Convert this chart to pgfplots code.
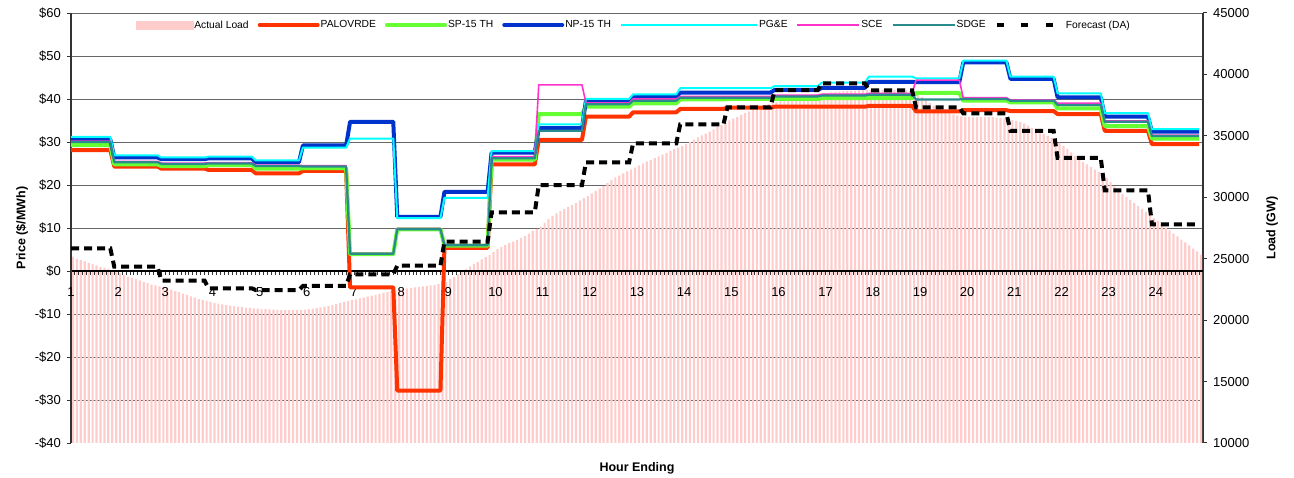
\documentclass[border=0pt]{standalone}
\usepackage{fontspec}
\setmainfont{Liberation Sans}
\usepackage{pgfplots}
\usepackage{pgfplotstable}
\pgfplotsset{compat=1.18}

\definecolor{loadpink}{RGB}{255,204,204}
\definecolor{palo}{RGB}{255,51,0}
\definecolor{spgreen}{RGB}{102,255,51}
\definecolor{npblue}{RGB}{0,51,204}
\definecolor{pgecyan}{RGB}{0,255,255}
\definecolor{scepink}{RGB}{255,51,204}
\definecolor{sdgeteal}{RGB}{40,140,140}

\newcommand\ticksize{\fontsize{13}{15}\selectfont}
\newcommand\legfont{\fontsize{10.3}{12}\selectfont}
\newcommand\labfont{\fontsize{12.5}{14}\selectfont\bfseries}

\pgfplotsset{
  pinkrect/.style={legend image code/.code={\fill[loadpink] (0pt,-4pt) rectangle (57pt,4pt);}},
  longcyan/.style={legend image code/.code={\draw[pgecyan,line width=2pt] (0pt,0pt) -- (136pt,0pt);}},
  shortline/.style={legend image code/.code={\draw[##1] (2pt,0pt) -- (60pt,0pt);}},
  fcimg/.style={legend image code/.code={\draw[##1,dash pattern=on 7pt off 17.5pt] (0pt,0pt) -- (56pt,0pt); \path (66pt,0pt);}},
}

\pgfplotstableread{
h pal sp np pge sce sdge
1 28.1 29.3 30.6 31.2 30.2 30.0
1.833 28.1 29.3 30.6 31.2 30.2 30.0
1.917 24.3 24.8 26.4 26.9 25.5 25.3
2.833 24.3 24.8 26.4 26.9 25.5 25.3
2.917 23.8 24.4 26.0 26.4 25.1 24.9
3.833 23.8 24.4 26.0 26.4 25.1 24.9
3.917 23.5 24.6 26.2 26.6 25.2 25.0
4.833 23.5 24.6 26.2 26.6 25.2 25.0
4.917 22.7 23.8 25.3 25.7 24.6 24.4
5.833 22.7 23.8 25.3 25.7 24.6 24.4
5.917 23.3 23.9 29.2 28.7 24.5 24.3
6.833 23.3 23.9 29.2 28.7 24.5 24.3
6.917 -3.8 3.9 34.7 30.8 4.1 4.0
7.833 -3.8 3.9 34.7 30.8 4.1 4.0
7.917 -27.8 9.7 12.6 12.3 9.9 9.7
8.833 -27.8 9.7 12.6 12.3 9.9 9.7
8.917 5.4 5.9 18.4 17.0 6.1 6.0
9.833 5.4 5.9 18.4 17.0 6.1 6.0
9.917 24.8 25.9 27.5 27.9 26.6 26.2
10.833 24.8 25.9 27.5 27.9 26.6 26.2
10.917 30.5 36.5 33.2 34.1 43.3 32.6
11.833 30.5 36.5 33.2 34.1 43.3 32.6
11.917 35.9 38.2 39.6 40.0 39.1 38.8
12.833 35.9 38.2 39.6 40.0 39.1 38.8
12.917 36.9 39.0 40.5 41.1 40.0 39.6
13.833 36.9 39.0 40.5 41.1 40.0 39.6
13.917 37.7 39.9 41.5 42.5 40.6 40.3
14.833 37.7 39.9 41.5 42.5 40.6 40.3
14.917 38.0 40.0 41.5 42.5 40.6 40.3
15.833 38.0 40.0 41.5 42.5 40.6 40.3
15.917 38.2 40.0 42.1 43.0 40.9 40.6
16.833 38.2 40.0 42.1 43.0 40.9 40.6
16.917 38.2 40.2 42.6 43.8 41.1 40.8
17.833 38.2 40.2 42.6 43.8 41.1 40.8
17.917 38.4 40.2 44.0 45.2 41.3 41.0
18.833 38.4 40.2 44.0 45.2 41.3 41.0
18.917 37.1 41.4 43.9 44.8 44.4 39.9
19.833 37.1 41.4 43.9 44.8 44.4 39.9
19.917 37.4 39.6 48.5 48.9 40.3 40.0
20.833 37.4 39.6 48.5 48.9 40.3 40.0
20.917 37.2 39.2 44.7 45.2 39.8 39.6
21.833 37.2 39.2 44.7 45.2 39.8 39.6
21.917 36.5 37.8 40.4 41.3 39.0 38.6
22.833 36.5 37.8 40.4 41.3 39.0 38.6
22.917 32.6 33.7 35.9 36.7 34.9 34.7
23.833 32.6 33.7 35.9 36.7 34.9 34.7
23.917 29.5 30.8 32.4 33.0 31.6 31.4
24.917 29.5 30.8 32.4 33.0 31.6 31.4
}\pricetable

\pgfplotstableread{
h fc
1 25850
1.833 25850
1.917 24350
2.833 24350
2.917 23210
3.833 23210
3.917 22590
4.833 22590
4.917 22450
5.833 22450
5.917 22780
6.833 22780
6.917 23730
7.833 23730
7.917 24430
8.833 24430
8.917 26390
9.833 26390
9.917 28780
10.833 28780
10.917 30980
11.833 30980
11.917 32850
12.833 32850
12.917 34390
13.833 34390
13.917 35940
14.833 35940
14.917 37320
15.833 37320
15.917 38730
16.833 38730
16.917 39280
17.833 39280
17.917 38710
18.833 38710
18.917 37320
19.833 37320
19.917 36830
20.833 36830
20.917 35400
21.833 35400
21.917 33200
22.833 33200
22.917 30570
23.833 30570
23.917 27800
24.917 27800
}\fctable

\pgfplotstableread[header=false,row sep=\\]{
25160\\ 24990\\ 24890\\ 24780\\ 24670\\ 24560\\ 24450\\ 24340\\ 24260\\ 24150\\ 24050\\ 23960\\
23800\\ 23670\\ 23550\\ 23470\\ 23350\\ 23230\\ 23100\\ 23020\\ 22900\\ 22820\\ 22740\\ 22660\\
22580\\ 22480\\ 22370\\ 22270\\ 22160\\ 22050\\ 21940\\ 21830\\ 21720\\ 21640\\ 21560\\ 21480\\
21410\\ 21350\\ 21280\\ 21220\\ 21180\\ 21140\\ 21090\\ 21050\\ 21020\\ 20990\\ 20960\\ 20940\\
20910\\ 20890\\ 20870\\ 20860\\ 20840\\ 20830\\ 20830\\ 20830\\ 20830\\ 20830\\ 20840\\ 20860\\
20890\\ 20920\\ 20970\\ 21030\\ 21090\\ 21170\\ 21230\\ 21310\\ 21400\\ 21480\\ 21560\\ 21620\\
21700\\ 21770\\ 21840\\ 21920\\ 21990\\ 22060\\ 22140\\ 22210\\ 22290\\ 22370\\ 22450\\ 22530\\
22530\\ 22580\\ 22620\\ 22660\\ 22700\\ 22740\\ 22780\\ 22820\\ 22860\\ 22940\\ 23020\\ 23100\\
23350\\ 23510\\ 23720\\ 23920\\ 24160\\ 24370\\ 24570\\ 24730\\ 24940\\ 25140\\ 25300\\ 25550\\
25790\\ 25950\\ 26120\\ 26280\\ 26400\\ 26520\\ 26690\\ 26850\\ 27050\\ 27260\\ 27420\\ 27620\\
27910\\ 28230\\ 28480\\ 28680\\ 28880\\ 29050\\ 29210\\ 29370\\ 29530\\ 29740\\ 29940\\ 30100\\
30310\\ 30510\\ 30720\\ 30920\\ 31160\\ 31410\\ 31610\\ 31770\\ 31940\\ 32100\\ 32260\\ 32420\\
32590\\ 32750\\ 32910\\ 33030\\ 33180\\ 33330\\ 33470\\ 33620\\ 33770\\ 33910\\ 34040\\ 34170\\
34340\\ 34500\\ 34700\\ 34870\\ 35030\\ 35190\\ 35350\\ 35530\\ 35720\\ 35880\\ 36050\\ 36250\\
36410\\ 36530\\ 36700\\ 36860\\ 37000\\ 37140\\ 37270\\ 37380\\ 37500\\ 37590\\ 37670\\ 37760\\
37840\\ 37920\\ 37980\\ 38050\\ 38110\\ 38180\\ 38240\\ 38290\\ 38340\\ 38390\\ 38430\\ 38470\\
38500\\ 38540\\ 38570\\ 38590\\ 38620\\ 38640\\ 38670\\ 38680\\ 38700\\ 38720\\ 38720\\ 38730\\
38730\\ 38750\\ 38760\\ 38760\\ 38760\\ 38760\\ 38750\\ 38730\\ 38710\\ 38650\\ 38530\\ 38370\\
38160\\ 37920\\ 37670\\ 37430\\ 37230\\ 37060\\ 36940\\ 36820\\ 36740\\ 36660\\ 36580\\ 36530\\
36530\\ 36530\\ 36530\\ 36530\\ 36530\\ 36530\\ 36520\\ 36490\\ 36450\\ 36410\\ 36370\\ 36290\\
36210\\ 36130\\ 36010\\ 35840\\ 35640\\ 35480\\ 35310\\ 35150\\ 34990\\ 34830\\ 34620\\ 34420\\
34170\\ 33930\\ 33650\\ 33360\\ 33120\\ 32870\\ 32670\\ 32470\\ 32260\\ 32060\\ 31850\\ 31570\\
31240\\ 30880\\ 30550\\ 30270\\ 30020\\ 29780\\ 29530\\ 29290\\ 29050\\ 28800\\ 28560\\ 28310\\
28070\\ 27780\\ 27540\\ 27300\\ 27050\\ 26810\\ 26560\\ 26320\\ 26080\\ 25830\\ 25590\\ 25340\\
}\loadtable

\begin{document}
\begin{tikzpicture}
\useasboundingbox (-71pt,-35pt) rectangle (1223pt,443pt);
\pgfplotsset{base/.style={width=1132pt,height=430pt,scale only axis,at={(0pt,0pt)},anchor=south west}}
% grid
\begin{axis}[base, xmin=1, xmax=25, ymin=-40, ymax=60,
  xtick=\empty, ytick={-30,-20,...,50}, yticklabels={},
  yticklabel style={text opacity=0, opacity=0},
  ymajorgrids, major grid style={black!60,line width=0.9pt},
  axis line style={draw=none}, major tick length=0pt,
  extra y ticks={60}, extra y tick labels={},
  extra y tick style={grid style={black!45,line width=2.2pt}}]
\addplot[draw=none] coordinates {(1,0)};
\end{axis}
% load bars
\begin{axis}[base, xmin=0, xmax=288, ymin=10000, ymax=45000,
  axis x line=none, axis y line*=right,
  y axis line style={-, black!80, line width=1.5pt},
  ytick={10000,15000,...,45000}, scaled y ticks=false,
  tick align=outside, major tick length=4pt,
  every tick/.style={black!80,line width=1pt},
  /pgf/number format/1000 sep={}, /pgf/number format/assume math mode=true,
  yticklabel style={font=\ticksize, inner sep=0pt, xshift=6pt},
  ylabel={Load (GW)},
  ylabel style={font=\labfont, at={(axis description cs:1.061,0.5)}, anchor=center}]
\addplot[ybar, bar width=2.2pt, bar shift=0pt, fill=loadpink, draw=none]
  table[x expr=\coordindex+0.5, y index=0]{\loadtable};
\end{axis}
% prices
\begin{axis}[base, xmin=1, xmax=25, ymin=-40, ymax=60,
  axis x line*=middle, axis y line*=left, hide obscured x ticks=false,
  x axis line style={-, black, line width=1.5pt},
  y axis line style={-, black!80, line width=1.5pt},
  tick align=outside, major tick length=4pt, minor tick length=4pt,
  every tick/.style={black!80,line width=0.9pt},
  xtick={1,...,24}, minor xtick={1,1.0833333,...,25},
  /pgf/number format/assume math mode=true,
  xticklabel style={font=\ticksize, inner sep=0pt, yshift=-12pt},
  ytick={-40,-30,...,60},
  yticklabels={-\$40,-\$30,-\$20,-\$10,\$0,\$10,\$20,\$30,\$40,\$50,\$60},
  yticklabel style={font=\ticksize, inner sep=0pt, xshift=-6pt},
  ylabel={Price (\$/MWh)},
  ylabel style={font=\labfont, at={(axis description cs:-0.0433,0.5)}, anchor=center},
  xlabel={Hour Ending},
  xlabel style={font=\labfont, at={(axis description cs:0.5,-0.06)}, anchor=center}]
\addplot[palo, line width=4pt, line join=round, no marks] table[x=h,y=pal]{\pricetable};
\addplot[spgreen, line width=4pt, line join=round, no marks] table[x=h,y=sp]{\pricetable};
\addplot[npblue, line width=4pt, line join=round, no marks] table[x=h,y=np]{\pricetable};
\addplot[pgecyan, line width=2pt, line join=round, no marks] table[x=h,y=pge]{\pricetable};
\addplot[scepink, line width=1.6pt, line join=round, no marks] table[x=h,y=sce]{\pricetable};
\addplot[sdgeteal, line width=2.2pt, line join=round, no marks] table[x=h,y=sdge]{\pricetable};
\end{axis}
% forecast + legend
\begin{axis}[base, xmin=1, xmax=25, ymin=10000, ymax=45000, hide axis,
  legend image code/.code={\draw[#1] (0pt,0pt) -- (62pt,0pt);},
  legend style={at={(axis description cs:0.0545,0.972)}, anchor=west, draw=none, fill=none,
    font=\legfont, nodes={inner xsep=1pt},
    /tikz/every even column/.append style={column sep=8pt}},
  legend columns=8, legend cell align=left]
\addlegendimage{pinkrect}
\addlegendimage{palo, line width=4pt, line cap=round, shortline}
\addlegendimage{spgreen, line width=4pt, line cap=round, shortline}
\addlegendimage{npblue, line width=4pt, line cap=round, shortline}
\addlegendimage{longcyan}
\addlegendimage{scepink, line width=1.6pt}
\addlegendimage{sdgeteal, line width=2.2pt}
\addplot[black, line width=4pt, dash pattern=on 8pt off 5pt, no marks, fcimg] table[x=h,y=fc]{\fctable};
\legend{Actual Load, PALOVRDE, SP-15 TH, NP-15 TH, PG\&E, SCE, SDGE, Forecast (DA)}
\end{axis}
\end{tikzpicture}
\end{document}
